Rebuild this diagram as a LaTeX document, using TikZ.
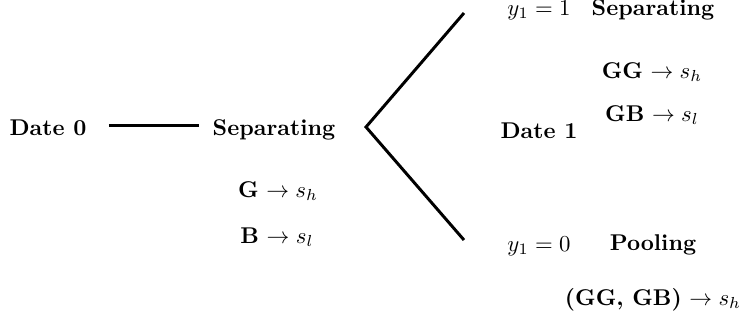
\documentclass[tikz,border=0pt]{standalone}
\usepackage{amsmath}
\usetikzlibrary{positioning}

\begin{document}
\begin{tikzpicture}[x=0.4386pt, y=-0.4386pt,
  etiqueta/.style={font=\bfseries, inner sep=0pt, anchor=base},
  regla/.style={inner sep=0pt, anchor=base},
  rama/.style={line width=1.3pt}]
  \useasboundingbox (0,0) rectangle (748,327);
  % date 0
  \node[etiqueta] (date0) at (48,135) {Date 0};
  \node[etiqueta] (sep0) at (274,135) {Separating};
  \node[regla] (g0) at (278,197) {\textbf{G} $\rightarrow s_h$};
  \node[regla] (b0) at (277,243) {\textbf{B} $\rightarrow s_l$};
  \draw[rama, shorten <=9.6pt, shorten >=5.7pt] ([yshift=4pt]date0.base east) -- ([yshift=4pt]sep0.base west);
  % branch
  \coordinate (v) at (366,127);
  \coordinate (arriba) at (464,13);
  \coordinate (abajo) at (464,240);
  \draw[rama] (arriba) -- (v) -- (abajo);
  % date 1
  \node[etiqueta] (date1) at (539,138) {Date 1};
  \node[regla] (y1) at (539,15) {$y_1 = 1$};
  \node[etiqueta] (sep1) at (653,15) {Separating};
  \node[regla] (gg) at (652,78) {\textbf{GG} $\rightarrow s_h$};
  \node[regla] (gb) at (652,121) {\textbf{GB} $\rightarrow s_l$};
  \node[regla] (y0) at (539,251) {$y_1 = 0$};
  \node[etiqueta] (pool) at (653,250) {Pooling};
  \node[regla] (ggb) at (653,305) {\textbf{(GG, GB)} $\rightarrow s_h$};
\end{tikzpicture}
\end{document}
